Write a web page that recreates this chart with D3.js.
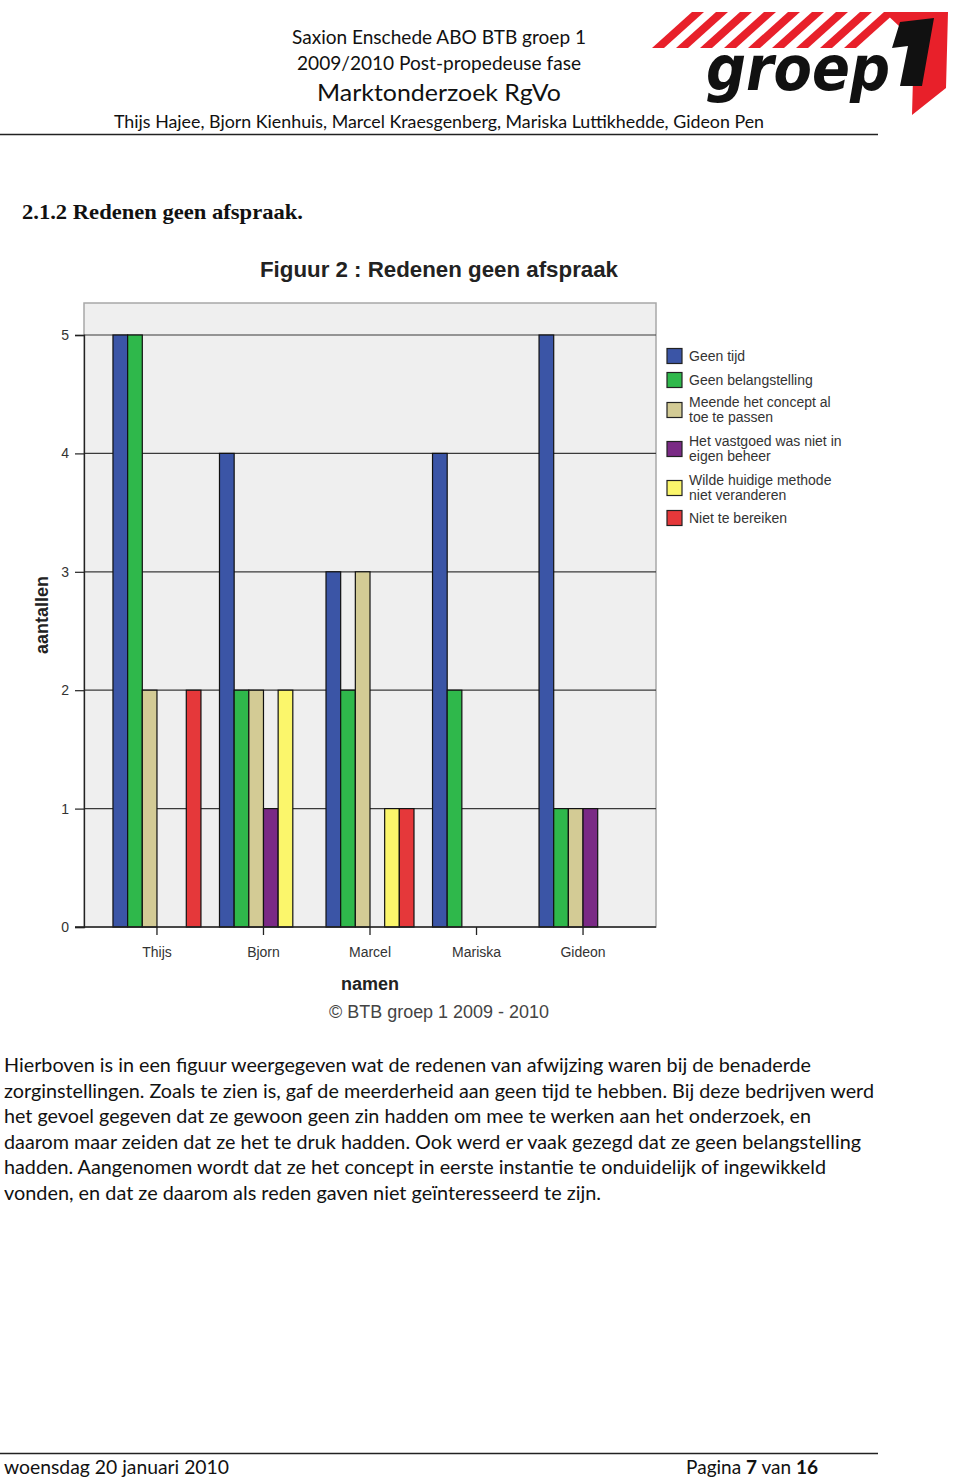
<!DOCTYPE html>
<html>
<head>
<meta charset="utf-8">
<script src="https://cdn.jsdelivr.net/npm/d3@7"></script>
<style>
  body { margin: 0; background: #fff; }
  svg { display: block; }
</style>
</head>
<body>
<div id="page"></div>
<script>
// data
var names = ["Thijs", "Bjorn", "Marcel", "Mariska", "Gideon"];
var reasons = ["Geen tijd", "Geen belangstelling", "Meende het concept al toe te passen",
  "Het vastgoed was niet in eigen beheer", "Wilde huidige methode niet veranderen", "Niet te bereiken"];
var legendLines = [["Geen tijd"], ["Geen belangstelling"], ["Meende het concept al", "toe te passen"],
  ["Het vastgoed was niet in", "eigen beheer"], ["Wilde huidige methode", "niet veranderen"], ["Niet te bereiken"]];
var geenTijd = [5, 4, 3, 4, 5];
var geenBelangstelling = [5, 2, 2, 2, 1];
var meendeConcept = [2, 2, 3, 0, 1];
var vastgoed = [0, 1, 0, 0, 1];
var huidigeMethode = [0, 2, 1, 0, 0];
var nietBereiken = [2, 0, 1, 0, 0];
var yTicks = [0, 1, 2, 3, 4, 5];
var colors = ["#3b55a6", "#2fb84b", "#d3cb95", "#7a2a85", "#fbf66b", "#e5383a"];

var series = [geenTijd, geenBelangstelling, meendeConcept, vastgoed, huidigeMethode, nietBereiken];

var headerLines = [
  { t: "Saxion Enschede ABO BTB groep 1", y: 44, size: 19, w: 294 },
  { t: "2009/2010 Post-propedeuse fase", y: 70, size: 19, w: 284 },
  { t: "Marktonderzoek RgVo", y: 101, size: 24, w: 244 },
  { t: "Thijs Hajee, Bjorn Kienhuis, Marcel Kraesgenberg, Mariska Luttikhedde, Gideon Pen", y: 128, size: 18, w: 650 }
];
var bodyLines = [
  { t: "Hierboven is in een figuur weergegeven wat de redenen van afwijzing waren bij de benaderde", w: 807 },
  { t: "zorginstellingen. Zoals te zien is, gaf de meerderheid aan geen tijd te hebben. Bij deze bedrijven werd", w: 870 },
  { t: "het gevoel gegeven dat ze gewoon geen zin hadden om mee te werken aan het onderzoek, en", w: 807 },
  { t: "daarom maar zeiden dat ze het te druk hadden. Ook werd er vaak gezegd dat ze geen belangstelling", w: 857 },
  { t: "hadden. Aangenomen wordt dat ze het concept in eerste instantie te onduidelijk of ingewikkeld", w: 822 },
  { t: "vonden, en dat ze daarom als reden gaven niet geïnteresseerd te zijn.", w: 597 }
];

var svg = d3.select("#page").append("svg")
  .attr("width", 960)
  .attr("height", 1480);

var bodyFont = "Lato, 'Open Sans', sans-serif";
var chartFont = "'Liberation Sans', Arial, sans-serif";

// ---- page header ----
svg.selectAll(".hdr")
  .data(headerLines)
  .enter()
  .append("text")
  .attr("class", "hdr")
  .attr("x", 439)
  .attr("y", function (d) { return d.y; })
  .attr("text-anchor", "middle")
  .attr("font-family", bodyFont)
  .attr("font-size", function (d) { return d.size; })
  .attr("textLength", function (d) { return d.w; })
  .attr("lengthAdjust", "spacingAndGlyphs")
  .attr("fill", "#111")
  .text(function (d) { return d.t; });

svg.append("line").attr("x1", 0).attr("x2", 878).attr("y1", 134.5).attr("y2", 134.5)
  .attr("stroke", "#222").attr("stroke-width", 1.5);

// ---- logo ----
var logo = svg.append("g");
for (var i = 0; i < 9; i++) {
  var bx = 652 + i * 24;
  logo.append("path")
    .attr("d", "M" + bx + ",48 L" + (bx + 12) + ",48 L" + (bx + 52) + ",12 L" + (bx + 40) + ",12 Z")
    .attr("fill", "#e8202a");
}
logo.append("path")
  .attr("d", "M884,12 L948,12 L946,88 L912,115 L914,40 Z")
  .attr("fill", "#e8202a");
logo.append("text")
  .attr("x", 706).attr("y", 90)
  .attr("font-family", "'DejaVu Sans', sans-serif")
  .attr("font-weight", "bold")
  .attr("font-style", "italic")
  .attr("font-size", 62)
  .attr("textLength", 184)
  .attr("lengthAdjust", "spacingAndGlyphs")
  .attr("fill", "#111")
  .attr("stroke", "#fff").attr("stroke-width", 4).attr("paint-order", "stroke")
  .text("groep");
logo.append("path")
  .attr("d", "M900,22 L934,18 L922,86 L900,86 L908,46 L892,48 Z")
  .attr("fill", "#111");

// ---- section heading ----
svg.append("text")
  .attr("x", 22).attr("y", 219)
  .attr("font-family", "'Liberation Serif', 'DejaVu Serif', serif")
  .attr("font-weight", "bold")
  .attr("font-size", 21)
  .attr("textLength", 281)
  .attr("lengthAdjust", "spacingAndGlyphs")
  .attr("fill", "#111")
  .text("2.1.2 Redenen geen afspraak.");

// ---- chart ----
var plot = { left: 84, right: 656, top: 303, bottom: 927 };

var x0 = d3.scaleBand().domain(names).range([plot.left, plot.right])
  .paddingInner(0.174).paddingOuter(0.272);
var x1 = d3.scaleBand().domain(d3.range(reasons.length)).range([0, x0.bandwidth()]);
var y = d3.scaleLinear().domain([0, 5]).range([plot.bottom, 335]);

svg.append("text")
  .attr("x", 439).attr("y", 277)
  .attr("text-anchor", "middle")
  .attr("font-family", chartFont)
  .attr("font-weight", "bold")
  .attr("font-size", 22)
  .attr("textLength", 358)
  .attr("lengthAdjust", "spacingAndGlyphs")
  .attr("fill", "#222")
  .text("Figuur 2 : Redenen geen afspraak");

svg.append("rect")
  .attr("x", plot.left).attr("y", plot.top)
  .attr("width", plot.right - plot.left).attr("height", plot.bottom - plot.top)
  .attr("fill", "#efefef")
  .attr("stroke", "#a8a8a8").attr("stroke-width", 1.5);

// grid lines
svg.append("g")
  .selectAll("line")
  .data(yTicks.slice(1))
  .enter()
  .append("line")
  .attr("x1", plot.left).attr("x2", plot.right)
  .attr("y1", function (d) { return y(d); })
  .attr("y2", function (d) { return y(d); })
  .attr("stroke", "#3a3a3a").attr("stroke-width", 1.2);

// y axis
var yAxis = d3.axisLeft(y).tickValues(yTicks).tickSize(9).tickPadding(6).tickFormat(d3.format("d"));
var gy = svg.append("g")
  .attr("transform", "translate(" + plot.left + ",0)")
  .call(yAxis);
gy.select(".domain").attr("stroke", "#222").attr("stroke-width", 1.3);
gy.selectAll(".tick line").attr("stroke", "#222").attr("stroke-width", 1.2);
gy.selectAll(".tick text")
  .attr("font-family", chartFont).attr("font-size", 14).attr("fill", "#333");

// bars
var groups = svg.append("g")
  .selectAll("g")
  .data(names)
  .enter()
  .append("g")
  .attr("transform", function (d) { return "translate(" + x0(d) + ",0)"; });

groups.selectAll("rect")
  .data(function (d, gi) {
    return series.map(function (s, si) { return { key: si, value: s[gi] }; });
  })
  .enter()
  .append("rect")
  .attr("x", function (d) { return x1(d.key); })
  .attr("y", function (d) { return y(d.value); })
  .attr("width", x1.bandwidth())
  .attr("height", function (d) { return y(0) - y(d.value); })
  .attr("fill", function (d) { return colors[d.key]; })
  .attr("stroke", "#111")
  .attr("stroke-width", 1.2);

// baseline + x axis
var xAxis = d3.axisBottom(x0).tickSize(8).tickPadding(12);
var gx = svg.append("g")
  .attr("transform", "translate(0," + plot.bottom + ")")
  .call(xAxis);
gx.select(".domain").remove();
gx.selectAll(".tick line").attr("stroke", "#222").attr("stroke-width", 1.3);
gx.selectAll(".tick text")
  .attr("font-family", chartFont).attr("font-size", 14).attr("fill", "#333");
svg.append("line")
  .attr("x1", 75).attr("x2", plot.right)
  .attr("y1", plot.bottom).attr("y2", plot.bottom)
  .attr("stroke", "#222").attr("stroke-width", 1.5);

// axis titles
svg.append("text")
  .attr("transform", "translate(48,615) rotate(-90)")
  .attr("text-anchor", "middle")
  .attr("font-family", chartFont)
  .attr("font-weight", "bold")
  .attr("font-size", 18)
  .attr("fill", "#222")
  .text("aantallen");

svg.append("text")
  .attr("x", 370).attr("y", 990)
  .attr("text-anchor", "middle")
  .attr("font-family", chartFont)
  .attr("font-weight", "bold")
  .attr("font-size", 18)
  .attr("fill", "#222")
  .text("namen");

svg.append("text")
  .attr("x", 439).attr("y", 1018)
  .attr("text-anchor", "middle")
  .attr("font-family", chartFont)
  .attr("font-size", 18)
  .attr("textLength", 220)
  .attr("lengthAdjust", "spacingAndGlyphs")
  .attr("fill", "#444")
  .text("© BTB groep 1 2009 - 2010");

// legend
var legendY = [356, 380, 410, 449, 488, 518];
var legend = svg.append("g")
  .selectAll("g")
  .data(legendLines)
  .enter()
  .append("g")
  .attr("transform", function (d, i) { return "translate(667," + legendY[i] + ")"; });

legend.append("rect")
  .attr("x", 0).attr("y", -7.5)
  .attr("width", 15).attr("height", 15)
  .attr("fill", function (d, i) { return colors[i]; })
  .attr("stroke", "#222").attr("stroke-width", 1.2);

legend.append("text")
  .attr("font-family", chartFont)
  .attr("font-size", 14)
  .attr("fill", "#333")
  .selectAll("tspan")
  .data(function (d) { return d; })
  .enter()
  .append("tspan")
  .attr("x", 22)
  .attr("y", function (d, j, arr) { return arr.length > 1 ? (j === 0 ? -3 : 12) : 5; })
  .text(function (d) { return d; });

// ---- body text ----
svg.selectAll(".body")
  .data(bodyLines)
  .enter()
  .append("text")
  .attr("class", "body")
  .attr("x", 4)
  .attr("y", function (d, i) { return 1072 + i * 25.6; })
  .attr("font-family", bodyFont)
  .attr("font-size", 19)
  .attr("textLength", function (d) { return d.w; })
  .attr("lengthAdjust", "spacingAndGlyphs")
  .attr("fill", "#111")
  .text(function (d) { return d.t; });

// ---- footer ----
svg.append("line").attr("x1", 0).attr("x2", 878).attr("y1", 1453.5).attr("y2", 1453.5)
  .attr("stroke", "#222").attr("stroke-width", 1.5);

svg.append("text")
  .attr("x", 4).attr("y", 1474)
  .attr("font-family", bodyFont)
  .attr("font-size", 19)
  .attr("textLength", 225)
  .attr("lengthAdjust", "spacingAndGlyphs")
  .attr("fill", "#111")
  .text("woensdag 20 januari 2010");

var pg = svg.append("text")
  .attr("x", 818).attr("y", 1474)
  .attr("text-anchor", "end")
  .attr("font-family", bodyFont)
  .attr("font-size", 19)
  .attr("fill", "#111");
pg.append("tspan").text("Pagina ");
pg.append("tspan").attr("font-weight", "bold").text("7");
pg.append("tspan").text(" van ");
pg.append("tspan").attr("font-weight", "bold").text("16");
</script>
</body>
</html>
